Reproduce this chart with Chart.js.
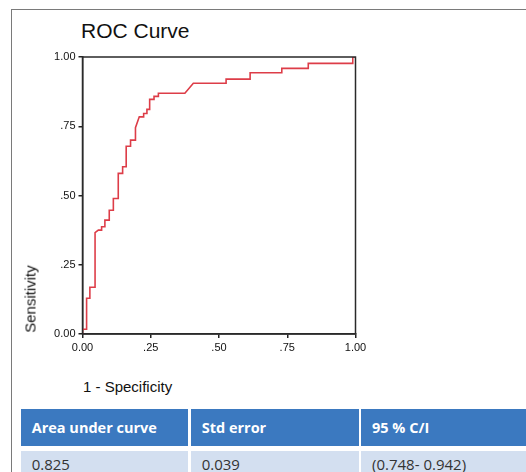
<!DOCTYPE html>
<html lang="en">
<head>
<meta charset="UTF-8">
<title>ROC Curve</title>
<script src="https://cdn.jsdelivr.net/npm/chart.js"></script>
<style>
  body { margin: 0; background: #fff; }
  #page { position: relative; width: 526px; height: 472px; overflow: hidden; font-family: "Liberation Sans", Arial, sans-serif; }
  #frame { position: absolute; left: 11px; top: 9px; width: 600px; height: 600px; border-left: 1.5px solid #7a7a7a; border-top: 1.5px solid #7a7a7a; }
  #roc { position: absolute; left: 0; top: 0; }
  .title { position: absolute; left: 81px; top: 19px; font-size: 21px; color: #111; }
  .xlabel { position: absolute; left: 83px; top: 378px; font-size: 15px; color: #111; }
  .ylabel { position: absolute; left: 30px; top: 299px; font-size: 15px; color: #111; transform: translate(-50%, -50%) rotate(-90deg); white-space: nowrap; }
  .cell { position: absolute; box-sizing: border-box; padding-left: 11px; font-family: "Open Sans", sans-serif; white-space: nowrap; }
  .head { top: 409px; height: 37px; line-height: 37px; background: #3b79c0; color: #fff; font-weight: bold; font-size: 14.5px; }
  .body { top: 451px; height: 30px; line-height: 27px; background: #d3dff0; color: #333; font-size: 15px; }
</style>
</head>
<body>
<div id="page">
  <div id="frame"></div>
  <div class="title">ROC Curve</div>
  <canvas id="roc" width="380" height="360"></canvas>
  <div class="ylabel">Sensitivity</div>
  <div class="xlabel">1 - Specificity</div>
  <div id="tabela"></div>
</div>
<script>
// pontos da curva ROC (1 - especificidade, sensibilidade)
var fpr = [0, 0, .015, .015, .027, .027, .046, .046, .058, .070, .070, .082, .082, .098, .098, .113, .113,
  .131, .131, .147, .147, .160, .160, .176, .176, .194, .194, .208, .224, .224, .236, .236, .246, .246,
  .262, .262, .278, .278, .375, .406, .526, .526, .614, .614, .730, .730, .827, .827, .990, .990, 1];
var tpr = [0, .017, .017, .129, .129, .169, .169, .366, .375, .375, .387, .387, .411, .411, .447, .447, .489,
  .489, .580, .580, .604, .604, .678, .678, .700, .700, .745, .784, .784, .796, .796, .811, .811, .847,
  .847, .858, .858, .869, .869, .905, .905, .920, .920, .943, .943, .959, .959, .977, .977, 1, 1];

var tickValues = [0, .25, .5, .75, 1];
var xTickLabels = ['0.00', '.25', '.50', '.75', '1.00'];
var yTickLabels = ['0.00', '.25', '.50', '.75', '1.00'];

// tabela de resultados
var colunas = ['Area under curve', 'Std error', '95 % C/I'];
var valores = ['0.825', '0.039', '(0.748- 0.942)'];

var pontos = fpr.map(function (x, i) { return { x: x, y: tpr[i] }; });

// caixa em volta da área do gráfico
var caixa = {
  id: 'caixa',
  afterDatasetsDraw: function (chart) {
    var a = chart.chartArea, c = chart.ctx;
    c.save();
    c.strokeStyle = '#2a2a2a';
    c.lineWidth = 1.5;
    c.strokeRect(a.left, a.top, a.right - a.left, a.bottom - a.top);
    c.restore();
  }
};

function eixo(labels, fit) {
  return {
    type: 'linear', min: 0, max: 1,
    afterBuildTicks: function (axis) { axis.ticks = tickValues.map(function (v) { return { value: v }; }); },
    ticks: {
      autoSkip: false, maxRotation: 0, padding: 3, color: '#111',
      font: { family: 'Liberation Sans', size: 11 },
      callback: function (v) { return labels[tickValues.indexOf(v)]; }
    },
    grid: { drawOnChartArea: false, tickLength: 4, color: '#222', lineWidth: 1.5 },
    border: { color: '#2a2a2a', width: 1.5 },
    afterFit: fit
  };
}

new Chart(document.getElementById('roc').getContext('2d'), {
  type: 'scatter',
  data: {
    datasets: [{
      data: pontos,
      showLine: true,
      borderColor: '#dd3d48',
      borderWidth: 1.6,
      pointRadius: 0,
      tension: 0,
      fill: false
    }]
  },
  options: {
    responsive: false,
    animation: false,
    layout: { padding: { top: 57, right: 24.5, left: 0, bottom: 0 } },
    plugins: { legend: { display: false }, tooltip: { enabled: false } },
    scales: {
      x: eixo(xTickLabels, function (s) { s.height = 26; }),
      y: eixo(yTickLabels, function (s) { s.width = 82.5; })
    }
  },
  plugins: [caixa]
});

// monta a tabela
var lefts = [20.7, 190.7, 361], widths = [167.6, 168.3, 180];
var tabela = document.getElementById('tabela');
colunas.forEach(function (t, i) {
  var h = document.createElement('div');
  h.className = 'cell head';
  h.style.left = lefts[i] + 'px';
  h.style.width = widths[i] + 'px';
  h.textContent = t;
  tabela.appendChild(h);
  var b = document.createElement('div');
  b.className = 'cell body';
  b.style.left = lefts[i] + 'px';
  b.style.width = widths[i] + 'px';
  b.textContent = valores[i];
  tabela.appendChild(b);
});
</script>
</body>
</html>
